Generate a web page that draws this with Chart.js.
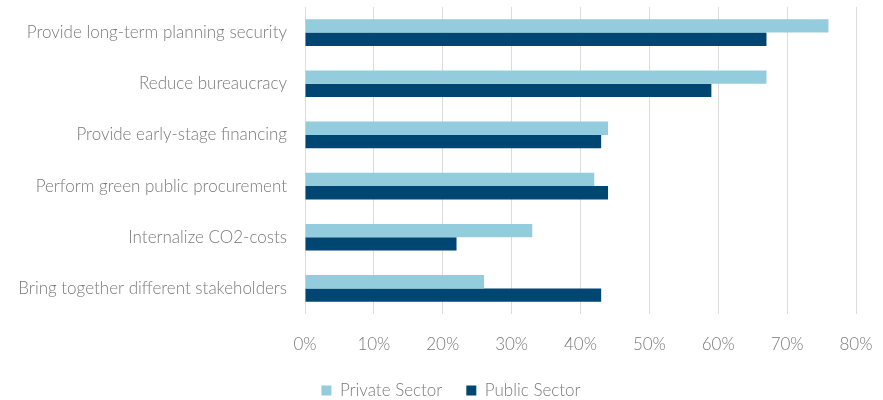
<!DOCTYPE html>
<html>
<head>
<meta charset="utf-8">
<script src="https://cdn.jsdelivr.net/npm/chart.js@4/dist/chart.umd.min.js"></script>
<style>
  html, body { margin: 0; padding: 0; background: #ffffff; }
  #wrap { width: 883px; height: 400px; position: relative; }
</style>
</head>
<body>
<div id="wrap"><canvas id="chart"></canvas></div>
<script>
// Policy measures and the share of respondents naming them
const categories = [
  "Provide long-term planning security",
  "Reduce bureaucracy",
  "Provide early-stage financing",
  "Perform green public procurement",
  "Internalize CO2-costs",
  "Bring together different stakeholders"
];
const privateSector = [76, 67, 44, 42, 33, 26];
const publicSector  = [67, 59, 43, 44, 22, 43];
const seriesNames = ["Private Sector", "Public Sector"];
const xTicks = [0, 10, 20, 30, 40, 50, 60, 70, 80];

const textColor = "#7a7a7a";
const fontFamily = "Lato, 'Open Sans', sans-serif";
const font = { family: fontFamily, size: 17, weight: 300 };

// Nudge the legend row a little to the right of the canvas centre
const legendShift = {
  id: "legendShift",
  afterUpdate(chart) {
    chart.legend.left += 23;
    chart.legend.right += 23;
  }
};

new Chart(document.getElementById("chart"), {
  type: "bar",
  data: {
    labels: categories,
    datasets: [
      { label: seriesNames[0], data: privateSector, backgroundColor: "#93cddd" },
      { label: seriesNames[1], data: publicSector, backgroundColor: "#004672" }
    ]
  },
  plugins: [legendShift],
  options: {
    indexAxis: "y",
    responsive: true,
    maintainAspectRatio: false,
    animation: false,
    layout: { padding: { top: 7, right: 27, bottom: -9, left: 0 } },
    datasets: { bar: { categoryPercentage: 0.52, barPercentage: 1.0 } },
    plugins: {
      tooltip: { enabled: false },
      legend: {
        position: "bottom",
        labels: { boxWidth: 10, boxHeight: 10, padding: 24, color: textColor, font: font }
      }
    },
    scales: {
      x: {
        min: xTicks[0], max: xTicks[xTicks.length - 1],
        afterBuildTicks: (axis) => { axis.ticks = xTicks.map(v => ({ value: v })); },
        afterFit: (axis) => { axis.height = 44; axis.paddingLeft = 0; axis.paddingRight = 0; },
        grid: { color: "#dcdcdc", lineWidth: 1, drawTicks: false },
        border: { display: false },
        ticks: { padding: 20, color: textColor, font: font, callback: (v) => v + "%" }
      },
      y: {
        afterFit: (axis) => { axis.width = 305; axis.paddingTop = 0; axis.paddingBottom = 0; },
        grid: { display: false, drawTicks: false },
        border: { display: false },
        ticks: { padding: 18, color: textColor, font: font }
      }
    }
  }
});
</script>
</body>
</html>
